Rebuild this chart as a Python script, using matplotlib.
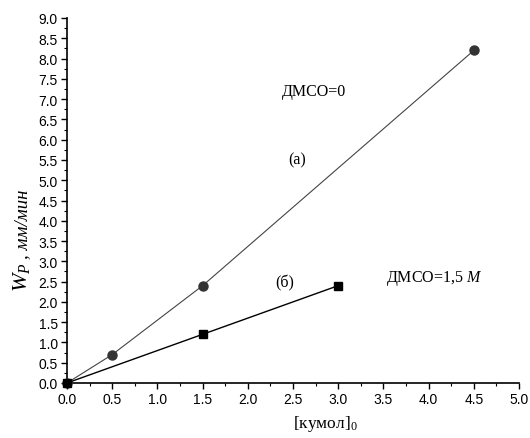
import matplotlib
matplotlib.use("Agg")
import matplotlib.pyplot as plt
from matplotlib.ticker import MultipleLocator

plt.rcParams['mathtext.fontset'] = 'custom'
plt.rcParams['mathtext.rm'] = 'Liberation Serif'
plt.rcParams['mathtext.it'] = 'Liberation Serif:italic'

# data
x_a = [0.0, 0.5, 1.5, 4.5]
y_a = [0.0, 0.7, 2.4, 8.2]
x_b = [0.0, 1.5, 3.0]
y_b = [0.0, 1.2, 2.4]
xticks = [0.0, 0.5, 1.0, 1.5, 2.0, 2.5, 3.0, 3.5, 4.0, 4.5, 5.0]
yticks = [0.0, 0.5, 1.0, 1.5, 2.0, 2.5, 3.0, 3.5, 4.0, 4.5, 5.0, 5.5, 6.0, 6.5, 7.0, 7.5, 8.0, 8.5, 9.0]

W, H = 530, 439
fig = plt.figure(figsize=(W / 100, H / 100), dpi=100)
ax = fig.add_axes([67 / W, 1 - 384 / H, (519 - 67) / W, (384 - 19) / H])

ax.plot(x_a, y_a, color='#444444', lw=0.8, marker='o', ms=6.5,
        mfc='#333333', mec='#333333', clip_on=False, zorder=3)
ax.plot(x_b, y_b, color='black', lw=1.0, marker='s', ms=5.5,
        mfc='black', mec='black', clip_on=False, zorder=3)

ax.set_xlim(0, 5.0)
ax.set_ylim(0, 9.0)
ax.set_xticks(xticks)
ax.set_yticks(yticks)
ax.set_xticklabels([f"{v:.1f}" for v in xticks])
ax.set_yticklabels([f"{v:.1f}" for v in yticks])
ax.xaxis.set_minor_locator(MultipleLocator(0.25))
ax.yaxis.set_minor_locator(MultipleLocator(0.25))
ax.tick_params(which='major', direction='out', length=4, width=1.0,
               labelsize=10, pad=2.5)
ax.tick_params(which='minor', direction='out', length=2.5, width=0.8)
for lab in ax.get_xticklabels() + ax.get_yticklabels():
    lab.set_family('Liberation Sans')
ax.spines['top'].set_visible(False)
ax.spines['right'].set_visible(False)
ax.spines['left'].set_linewidth(1.2)
ax.spines['bottom'].set_linewidth(1.2)

serif = 'Liberation Serif'
ax.text(2.38, 7.19, 'ДМСО=0', family=serif, fontsize=11.5, va='center', ha='left')
ax.text(2.55, 5.52, '(a)', family=serif, fontsize=11.5, va='center', ha='center')
ax.text(2.41, 2.49, '(б)', family=serif, fontsize=11.5, va='center', ha='center')
ax.text(3.53, 2.61, 'ДМСО=1,5 $\\it{М}$', family=serif, fontsize=11.5, va='center', ha='left')

# y label: big W with subscript, then units
t1 = fig.text(27 / W, 1 - 292 / H, '$W_{P}$', family=serif, fontsize=16,
              rotation=90, rotation_mode='anchor', ha='left', va='baseline')
r = fig.canvas.get_renderer()
bb = t1.get_window_extent(r)
top_px = bb.y1 + 3
fig.text(27 / W, top_px / (H), ', мм/мин', family=serif, style='italic', fontsize=13.5,
         rotation=90, rotation_mode='anchor', ha='left', va='baseline')

fig.text(325 / W, 1 - 424 / H, '[кумол]$_0$', family=serif,
         fontsize=12.5, ha='center', va='center')

fig.savefig('out.png', dpi=100)
